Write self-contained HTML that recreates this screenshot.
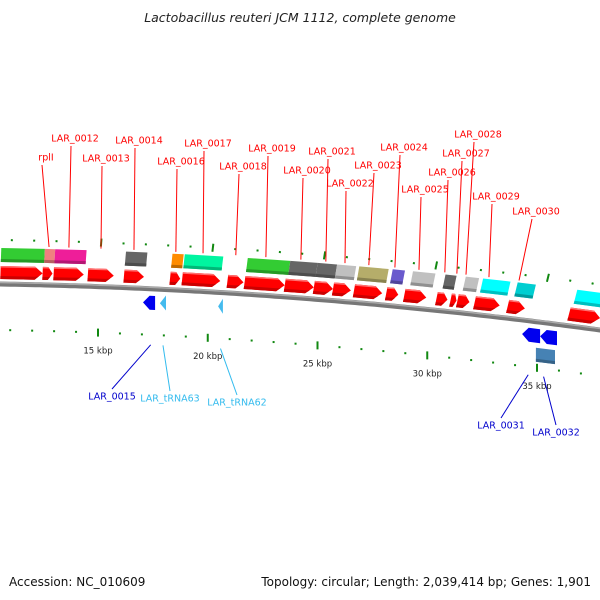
<!DOCTYPE html>
<html><head><meta charset="utf-8">
<style>
html,body{margin:0;padding:0;background:#fff;}
svg{display:block;font-family:"DejaVu Sans","Liberation Sans",sans-serif;}
</style></head>
<body>
<svg id="map" width="600" height="600" viewBox="0 0 600 600" xmlns="http://www.w3.org/2000/svg">
<rect width="600" height="600" fill="#fff"/>
<text x="300" y="22" text-anchor="middle" font-size="12.5" font-style="italic" fill="#222">Lactobacillus reuteri JCM 1112, complete genome</text>
<text x="9" y="586" font-size="12" fill="#111">Accession: NC_010609</text>
<text x="591" y="586" text-anchor="end" font-size="12" fill="#111">Topology: circular; Length: 2,039,414 bp; Genes: 1,901</text>
<g id="layer"></g>
</svg>
<script>
// forward-strand genes (kbp)
const fwdStart = [10.54,12.45,12.95,14.50,16.14,18.23,18.78,20.83,21.61,23.43,24.75,25.62,26.57,28.03,28.85,30.31,30.95,31.26,32.04,33.54,36.32];
const fwdEnd   = [12.45,12.90,14.32,15.68,17.05,18.69,20.51,21.56,23.43,24.75,25.62,26.43,27.85,28.58,29.85,30.81,31.22,31.81,33.18,34.32,37.73];
// COG category boxes (kbp)
const cogStart = [10.54,12.50,12.96,16.14,18.23,18.78,21.61,23.52,24.75,25.62,26.62,28.12,29.03,30.49,31.40,32.18,33.73,36.41];
const cogEnd   = [12.50,12.96,14.37,17.10,18.73,20.51,23.52,24.75,25.62,26.48,27.94,28.67,30.04,30.99,32.00,33.41,34.55,37.87];
const cogColor = ["#33cc33","#f08080","#ee1e99","#666666","#ff8c00","#00f5a0","#33cc33","#666666","#666666","#c0c0c0","#b5ad6a","#6a5acd","#c0c0c0","#666666","#c0c0c0","#00ffff","#00ced1","#00ffff"];
// reverse strand genes (kbp)
const revStart = [17.05,17.82,20.47,34.32,35.14];
const revEnd   = [17.60,18.10,20.69,35.14,35.91];
const revColor = ["#0000ee","#44bbee","#44bbee","#0000ee","#0000ee"];
const revKind  = ["cds","trna","trna","cds","cds"];
const rev2Start = [34.95];
const rev2End   = [35.82];
// tick labels
const tickKb = [15,20,25,30,35];
const tickLabels = ["15 kbp","20 kbp","25 kbp","30 kbp","35 kbp"];
// gene labels
const fwdLabels = ["LAR_0012","rplI","LAR_0013","LAR_0014","LAR_0016","LAR_0017","LAR_0018","LAR_0019","LAR_0020","LAR_0021","LAR_0022","LAR_0023","LAR_0024","LAR_0025","LAR_0026","LAR_0027","LAR_0028","LAR_0029","LAR_0030"];
const fwdLabelKb = [13.57,12.68,15.01,16.49,18.37,19.59,21.06,22.41,23.98,25.10,25.96,27.03,28.20,29.28,30.44,30.98,31.39,32.42,33.77];
const fwdLabelX = [75,46,106,139,181,208,243,272,307,332,350,378,404,425,452,466,478,496,536];
const fwdLabelY = [138,157,158,140,161,143,166,148,170,151,183,165,147,189,172,153,134,196,211];
const revLabels = ["LAR_0015","LAR_tRNA63","LAR_tRNA62","LAR_0031","LAR_0032"];
const revLabelKb = [17.4,17.96,20.58,34.6,35.3];
const revLabelX = [112,170,237,501,556];
const revLabelY = [396,398,402,425,432];
const revLabelColor = ["#0000cc","#33bbee","#33bbee","#0000cc","#0000cc"];

const NS="http://www.w3.org/2000/svg";
const layer=document.getElementById('layer');
const X=kb=>98+(kb-15)*21.95;
const baseY=x=>284+0.0167*x+0.0001*x*x;
const slope=x=>0.0167+0.0002*x;
function P(kb,off){const x=X(kb);const k=off<0?2:0;return [x-off*slope(x)*k, baseY(x)+off];}
function mk(tag,attrs){const e=document.createElementNS(NS,tag);for(const k in attrs)e.setAttribute(k,attrs[k]);layer.appendChild(e);return e;}
function poly(pts){return pts.map(p=>p[0].toFixed(1)+','+p[1].toFixed(1)).join(' ');}
function shade(c,f){const n=parseInt(c.slice(1),16);let r=(n>>16)&255,g=(n>>8)&255,b=n&255;r=Math.round(r*f);g=Math.round(g*f);b=Math.round(b*f);return `rgb(${r},${g},${b})`;}

// backbone
let d='';for(let x=-5;x<=605;x+=5){const y=baseY(x);d+=(x===-5?'M':'L')+x+','+y.toFixed(1);}
let bb=mk('path',{d:d,stroke:'#777',"stroke-width":5,fill:'none'});


let bb2=mk('path',{d:d,stroke:'#aaa',"stroke-width":1.5,fill:'none',transform:'translate(0,-1.5)'});



// ticks
for(let kb=10;kb<=38;kb++){
  const major=kb%5===0;
  [-44,46].forEach(o=>{
    const a=P(kb,o-(major?4:1)),b=P(kb,o+(major?4:1));
    const t=mk('line',{x1:a[0],y1:a[1],x2:b[0],y2:b[1],stroke:'#118811',"stroke-width":2});
    
    
  });
}
tickKb.forEach((kb,i)=>{const p=P(kb,64);
  const t=mk('text',{x:p[0],y:p[1]+3,"text-anchor":"middle","font-size":8.5,fill:'#222'});
  t.textContent=tickLabels[i];
  
  
});

function box(s,e,o1,o2,color,name){
  const pts=[P(s,o1),P(e,o1),P(e,o2),P(s,o2)];
  const g=mk('polygon',{points:poly(pts),fill:color});
  
  
  const bp=[P(s,o2-3),P(e,o2-3),P(e,o2),P(s,o2)];
  const b=mk('polygon',{points:poly(bp),fill:shade(color,0.75)});
  
  
}
cogStart.forEach((s,i)=>box(s,cogEnd[i],-36,-22,cogColor[i],'cog-box'));
fwdStart.forEach((s,i)=>{
  const e=fwdEnd[i];const tip=Math.min(0.35,(e-s)*0.45);
  const pts=[P(s,-18),P(e-tip,-18),P(e,-11.5),P(e-tip,-5),P(s,-5)];
  const g=mk('polygon',{points:poly(pts),fill:'#ff0000'});
  
  
  const sp=[P(s,-8),P(e-tip,-8),P(e-tip*0.45,-8.5),P(e-tip,-5),P(s,-5)];
  const b=mk('polygon',{points:poly(sp),fill:'#cc0000'});
  
  
  const hp=[P(s,-18),P(e-tip,-18),P(e-tip*0.8,-16.5),P(s,-16.5)];
  const h=mk('polygon',{points:poly(hp),fill:'#ff7070'});
  
  
});
revStart.forEach((s,i)=>{
  const e=revEnd[i];let pts;
  if(revKind[i]==='trna'){pts=[P(s,14),P(e,6),P(e,21)];}
  else{const tip=0.3;pts=[P(s,14),P(s+tip,7),P(e,7),P(e,21),P(s+tip,21)];}
  const g=mk('polygon',{points:poly(pts),fill:revColor[i]});
  
  
});
rev2Start.forEach((s,i)=>box(s,rev2End[i],26,40,'#4682b4','reverse-cog-box'));

fwdLabels.forEach((t,i)=>{
  const p=P(fwdLabelKb[i],-38);
  const l=mk('line',{x1:fwdLabelX[i]-4,y1:fwdLabelY[i]+8,x2:p[0],y2:p[1],stroke:'#ff0000',"stroke-width":1});
  
  
  const tx=mk('text',{x:fwdLabelX[i],y:fwdLabelY[i]+3.5,"text-anchor":"middle","font-size":9.5,fill:'#ff0000'});
  tx.textContent=t;
  
  
});
revLabels.forEach((t,i)=>{
  const p=P(revLabelKb[i],i>=3?54:56);
  const l=mk('line',{x1:revLabelX[i],y1:revLabelY[i]-7,x2:p[0],y2:p[1],stroke:revLabelColor[i],"stroke-width":1});
  
  
  const tx=mk('text',{x:revLabelX[i],y:revLabelY[i]+3.5,"text-anchor":"middle","font-size":9.5,fill:revLabelColor[i]});
  tx.textContent=t;
  
  
});
</script>
</body></html>
